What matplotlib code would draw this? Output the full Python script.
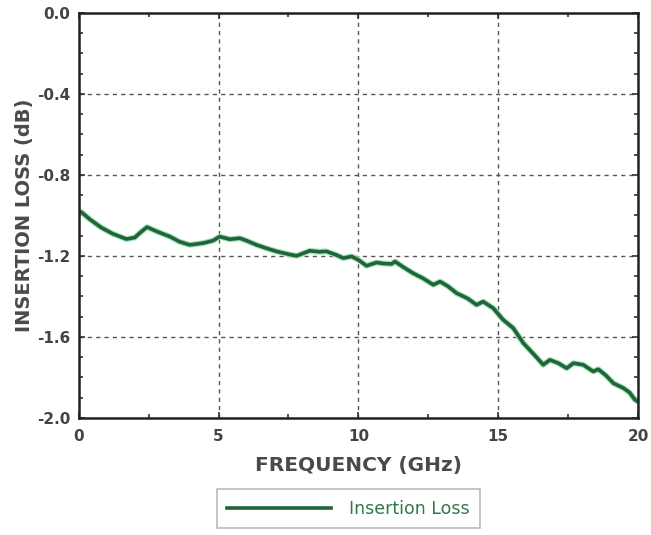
import numpy as np
import matplotlib
matplotlib.use("Agg")
from matplotlib import pyplot as plt
from matplotlib.ticker import MultipleLocator

# values
freq = [0.0, 0.1, 0.4, 0.8, 1.2, 1.7, 2.0, 2.2, 2.44, 2.8, 3.26, 3.6, 3.97, 4.45,
        4.8, 5.04, 5.4, 5.76, 6.0, 6.36, 6.7, 7.07, 7.5, 7.79, 8.26, 8.6, 8.86,
        9.2, 9.46, 9.76, 10.0, 10.29, 10.65, 10.9, 11.19, 11.31, 11.6, 11.96,
        12.3, 12.68, 12.92, 13.2, 13.51, 13.9, 14.23, 14.46, 14.82, 15.18, 15.54,
        15.9, 16.3, 16.61, 16.85, 17.15, 17.45, 17.69, 18.04, 18.4, 18.58, 18.85,
        19.12, 19.48, 19.7, 19.89, 20.0]
loss = [-0.98, -0.985, -1.02, -1.06, -1.09, -1.117, -1.11, -1.085, -1.058, -1.08,
        -1.105, -1.13, -1.146, -1.137, -1.125, -1.105, -1.118, -1.113, -1.125,
        -1.146, -1.162, -1.178, -1.192, -1.20, -1.175, -1.18, -1.178, -1.195,
        -1.211, -1.203, -1.22, -1.249, -1.233, -1.238, -1.240, -1.228, -1.255,
        -1.286, -1.31, -1.343, -1.327, -1.35, -1.384, -1.41, -1.442, -1.426,
        -1.458, -1.516, -1.557, -1.631, -1.69, -1.738, -1.714, -1.73, -1.755,
        -1.730, -1.738, -1.771, -1.760, -1.79, -1.829, -1.853, -1.875, -1.911, -1.92]

plt.rcParams['font.family'] = ['DejaVu Sans']

fig = plt.figure(figsize=(6.51, 5.35), dpi=100)
ax = fig.add_axes([0.121, 0.219, 0.859, 0.757])

ax.plot(freq, loss, color='#9fe0b8', linewidth=4.2, solid_capstyle='round')
line, = ax.plot(freq, loss, color='#22643a', linewidth=2.6, label='Insertion Loss')

ax.set_xlim(0, 20)
ax.set_ylim(-2.0, 0.0)
ax.xaxis.set_major_locator(MultipleLocator(5))
ax.xaxis.set_minor_locator(MultipleLocator(2.5))
ax.yaxis.set_major_locator(MultipleLocator(0.4))
ax.yaxis.set_minor_locator(MultipleLocator(0.1))
ax.set_yticklabels([f'{v:.1f}' for v in ax.get_yticks()])
ax.tick_params(which='both', direction='in', top=True, right=True, colors='#333333',
               labelsize=11, width=1.2)
ax.tick_params(which='major', length=4)
ax.tick_params(axis='x', which='major', pad=8)
ax.tick_params(axis='y', which='major', pad=6)
ax.tick_params(which='minor', length=3)
for lab in ax.get_xticklabels() + ax.get_yticklabels():
    lab.set_fontweight('bold')
    lab.set_color('#444444')
for s in ax.spines.values():
    s.set_linewidth(1.8)
    s.set_color('#222222')

ax.grid(True, which='major', linestyle=(0, (3, 3)), color='#555555', linewidth=1.0)

ax.set_xlabel('FREQUENCY (GHz)', fontsize=14.5, fontweight='bold', color='#4a4a4a', labelpad=9)
ax.set_ylabel('INSERTION LOSS (dB)', fontsize=14, fontweight='bold', color='#4a4a4a', labelpad=2)

leg = fig.legend(handles=[line], loc='center', bbox_to_anchor=(0.535, 0.049),
                 fontsize=12.5, frameon=True, fancybox=False, handlelength=6.0,
                 borderpad=0.6, handletextpad=1.0, labelcolor='#2f7a4a')
leg.get_frame().set_edgecolor('#aaaaaa')
leg.get_frame().set_linewidth(1.2)

fig.savefig('out.png', dpi=100)
